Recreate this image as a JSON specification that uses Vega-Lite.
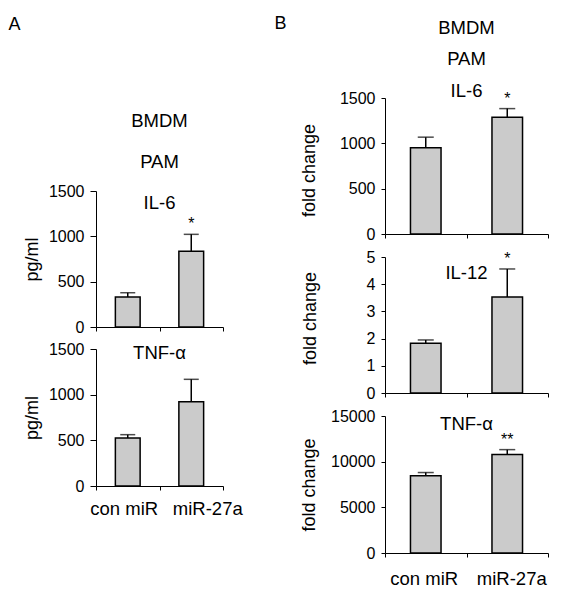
{
  "$schema": "https://vega.github.io/schema/vega-lite/v6.json",
  "padding": {"left": 8, "top": 15, "right": 5, "bottom": 5},
  "data": {"values": [
    {"panel": "A_IL6", "group": "con miR", "value": 331, "hi": 378, "sig": ""},
    {"panel": "A_IL6", "group": "miR-27a", "value": 835, "hi": 1022, "sig": "*"},
    {"panel": "A_TNF", "group": "con miR", "value": 526, "hi": 562, "sig": ""},
    {"panel": "A_TNF", "group": "miR-27a", "value": 923, "hi": 1168, "sig": ""},
    {"panel": "B_IL6", "group": "con miR", "value": 951, "hi": 1068, "sig": ""},
    {"panel": "B_IL6", "group": "miR-27a", "value": 1288, "hi": 1383, "sig": "*"},
    {"panel": "B_IL12", "group": "con miR", "value": 1.83, "hi": 1.95, "sig": ""},
    {"panel": "B_IL12", "group": "miR-27a", "value": 3.53, "hi": 4.56, "sig": "*"},
    {"panel": "B_TNF", "group": "con miR", "value": 8445, "hi": 8810, "sig": ""},
    {"panel": "B_TNF", "group": "miR-27a", "value": 10772, "hi": 11318, "sig": "**"}
  ]},
  "spacing": 31,
  "hconcat": [
    {
      "title": {"text": "A", "anchor": "start", "frame": "bounds", "offset": 64, "dx": -15, "fontSize": 18},
      "bounds": "flush",
      "spacing": 22,
      "vconcat": [
        {
          "width": 127, "height": 71,
          "data": {"values": []},
          "mark": {"type": "point", "opacity": 0}
        },
        {
          "width": 127, "height": 136,
          "title": {"text": ["BMDM", "PAM", "IL-6"], "lineHeight": 41, "offset": -29, "frame": "group", "anchor": "middle"},
          "transform": [{"filter": "datum.panel === 'A_IL6'"}],
          "encoding": {"x": {"field": "group", "type": "nominal", "sort": ["con miR", "miR-27a"], "scale": {"paddingInner": 0, "paddingOuter": 0}, "axis": {"labels": false, "title": null, "tickBand": "extent", "tickSize": 4}}},
          "layer": [
            {"mark": {"type": "bar", "width": {"band": 0.39}, "fill": "#cbcbcb", "stroke": "#000", "strokeWidth": 1.5},
             "encoding": {"y": {"field": "value", "type": "quantitative", "scale": {"domain": [0, 1500], "nice": false}, "axis": {"values": [0, 500, 1000, 1500], "format": "d", "title": "pg/ml", "tickSize": 6, "labelPadding": 6, "titlePadding": 7}}}},
            {"mark": {"type": "rule", "stroke": "#000", "strokeWidth": 1.5},
             "encoding": {"y": {"field": "value", "type": "quantitative", "scale": {"domain": [0, 1500], "nice": false}, "axis": {"values": [0, 500, 1000, 1500], "format": "d", "title": "pg/ml", "tickSize": 6, "labelPadding": 6, "titlePadding": 7}}, "y2": {"field": "hi"}}},
            {"mark": {"type": "tick", "size": 15, "thickness": 1.5, "color": "#000"},
             "encoding": {"y": {"field": "hi", "type": "quantitative", "scale": {"domain": [0, 1500], "nice": false}, "axis": {"values": [0, 500, 1000, 1500], "format": "d", "title": "pg/ml", "tickSize": 6, "labelPadding": 6, "titlePadding": 7}}}},
            {"mark": {"type": "text", "baseline": "bottom", "dy": -2, "fontSize": 16, "color": "#000"},
             "encoding": {"y": {"field": "hi", "type": "quantitative", "scale": {"domain": [0, 1500], "nice": false}, "axis": {"values": [0, 500, 1000, 1500], "format": "d", "title": "pg/ml", "tickSize": 6, "labelPadding": 6, "titlePadding": 7}}, "text": {"field": "sig", "type": "nominal"}}}
          ]
        },
        {
          "width": 127, "height": 137,
          "title": {"text": "TNF-α", "offset": -21, "frame": "group", "anchor": "middle"},
          "transform": [{"filter": "datum.panel === 'A_TNF'"}],
          "encoding": {"x": {"field": "group", "type": "nominal", "sort": ["con miR", "miR-27a"], "scale": {"paddingInner": 0, "paddingOuter": 0}, "axis": {"labels": true, "labelAngle": 0, "labelFontSize": 18.5, "labelPadding": 9, "labelOverlap": false, "labelOffset": {"condition": {"test": "datum.value === 'con miR'", "value": -4}, "value": 16}, "title": null, "tickBand": "extent", "tickSize": 4}}},
          "layer": [
            {"mark": {"type": "bar", "width": {"band": 0.39}, "fill": "#cbcbcb", "stroke": "#000", "strokeWidth": 1.5},
             "encoding": {"y": {"field": "value", "type": "quantitative", "scale": {"domain": [0, 1500], "nice": false}, "axis": {"values": [0, 500, 1000, 1500], "format": "d", "title": "pg/ml", "tickSize": 6, "labelPadding": 6, "titlePadding": 7}}}},
            {"mark": {"type": "rule", "stroke": "#000", "strokeWidth": 1.5},
             "encoding": {"y": {"field": "value", "type": "quantitative", "scale": {"domain": [0, 1500], "nice": false}, "axis": {"values": [0, 500, 1000, 1500], "format": "d", "title": "pg/ml", "tickSize": 6, "labelPadding": 6, "titlePadding": 7}}, "y2": {"field": "hi"}}},
            {"mark": {"type": "tick", "size": 15, "thickness": 1.5, "color": "#000"},
             "encoding": {"y": {"field": "hi", "type": "quantitative", "scale": {"domain": [0, 1500], "nice": false}, "axis": {"values": [0, 500, 1000, 1500], "format": "d", "title": "pg/ml", "tickSize": 6, "labelPadding": 6, "titlePadding": 7}}}},
            {"mark": {"type": "text", "baseline": "bottom", "dy": -2, "fontSize": 16, "color": "#000"},
             "encoding": {"y": {"field": "hi", "type": "quantitative", "scale": {"domain": [0, 1500], "nice": false}, "axis": {"values": [0, 500, 1000, 1500], "format": "d", "title": "pg/ml", "tickSize": 6, "labelPadding": 6, "titlePadding": 7}}, "text": {"field": "sig", "type": "nominal"}}}
          ]
        }
      ]
    },
    {
      "title": {"text": "B", "anchor": "start", "frame": "bounds", "offset": -14, "dx": -26, "fontSize": 18},
      "bounds": "flush",
      "spacing": 23,
      "vconcat": [
        {
          "width": 163, "height": 136,
          "title": {"text": ["BMDM", "PAM", "IL-6"], "lineHeight": 31.25, "offset": -10, "frame": "group", "anchor": "middle"},
          "transform": [{"filter": "datum.panel === 'B_IL6'"}],
          "encoding": {"x": {"field": "group", "type": "nominal", "sort": ["con miR", "miR-27a"], "scale": {"paddingInner": 0, "paddingOuter": 0}, "axis": {"labels": false, "title": null, "tickBand": "extent", "tickSize": 4}}},
          "layer": [
            {"mark": {"type": "bar", "width": {"band": 0.375}, "fill": "#cbcbcb", "stroke": "#000", "strokeWidth": 1.5},
             "encoding": {"y": {"field": "value", "type": "quantitative", "scale": {"domain": [0, 1500], "nice": false}, "axis": {"values": [0, 500, 1000, 1500], "format": "d", "title": "fold change", "tickSize": 4, "labelPadding": 6, "titlePadding": 21, "titleY": 72}}}},
            {"mark": {"type": "rule", "stroke": "#000", "strokeWidth": 1.5},
             "encoding": {"y": {"field": "value", "type": "quantitative", "scale": {"domain": [0, 1500], "nice": false}, "axis": {"values": [0, 500, 1000, 1500], "format": "d", "title": "fold change", "tickSize": 4, "labelPadding": 6, "titlePadding": 21, "titleY": 72}}, "y2": {"field": "hi"}}},
            {"mark": {"type": "tick", "size": 16, "thickness": 1.5, "color": "#000"},
             "encoding": {"y": {"field": "hi", "type": "quantitative", "scale": {"domain": [0, 1500], "nice": false}, "axis": {"values": [0, 500, 1000, 1500], "format": "d", "title": "fold change", "tickSize": 4, "labelPadding": 6, "titlePadding": 21, "titleY": 72}}}},
            {"mark": {"type": "text", "baseline": "bottom", "dy": -2, "fontSize": 16, "color": "#000"},
             "encoding": {"y": {"field": "hi", "type": "quantitative", "scale": {"domain": [0, 1500], "nice": false}, "axis": {"values": [0, 500, 1000, 1500], "format": "d", "title": "fold change", "tickSize": 4, "labelPadding": 6, "titlePadding": 21, "titleY": 72}}, "text": {"field": "sig", "type": "nominal"}}}
          ]
        },
        {
          "width": 163, "height": 136,
          "title": {"text": "IL-12", "offset": -33, "frame": "group", "anchor": "middle"},
          "transform": [{"filter": "datum.panel === 'B_IL12'"}],
          "encoding": {"x": {"field": "group", "type": "nominal", "sort": ["con miR", "miR-27a"], "scale": {"paddingInner": 0, "paddingOuter": 0}, "axis": {"labels": false, "title": null, "tickBand": "extent", "tickSize": 4}}},
          "layer": [
            {"mark": {"type": "bar", "width": {"band": 0.375}, "fill": "#cbcbcb", "stroke": "#000", "strokeWidth": 1.5},
             "encoding": {"y": {"field": "value", "type": "quantitative", "scale": {"domain": [0, 5], "nice": false}, "axis": {"values": [0, 1, 2, 3, 4, 5], "format": "d", "title": "fold change", "tickSize": 4, "labelPadding": 6, "titlePadding": 47, "titleY": 61}}}},
            {"mark": {"type": "rule", "stroke": "#000", "strokeWidth": 1.5},
             "encoding": {"y": {"field": "value", "type": "quantitative", "scale": {"domain": [0, 5], "nice": false}, "axis": {"values": [0, 1, 2, 3, 4, 5], "format": "d", "title": "fold change", "tickSize": 4, "labelPadding": 6, "titlePadding": 47, "titleY": 61}}, "y2": {"field": "hi"}}},
            {"mark": {"type": "tick", "size": 16, "thickness": 1.5, "color": "#000"},
             "encoding": {"y": {"field": "hi", "type": "quantitative", "scale": {"domain": [0, 5], "nice": false}, "axis": {"values": [0, 1, 2, 3, 4, 5], "format": "d", "title": "fold change", "tickSize": 4, "labelPadding": 6, "titlePadding": 47, "titleY": 61}}}},
            {"mark": {"type": "text", "baseline": "bottom", "dy": -2, "fontSize": 16, "color": "#000"},
             "encoding": {"y": {"field": "hi", "type": "quantitative", "scale": {"domain": [0, 5], "nice": false}, "axis": {"values": [0, 1, 2, 3, 4, 5], "format": "d", "title": "fold change", "tickSize": 4, "labelPadding": 6, "titlePadding": 47, "titleY": 61}}, "text": {"field": "sig", "type": "nominal"}}}
          ]
        },
        {
          "width": 163, "height": 137,
          "title": {"text": "TNF-α", "offset": -25, "frame": "group", "anchor": "middle"},
          "transform": [{"filter": "datum.panel === 'B_TNF'"}],
          "encoding": {"x": {"field": "group", "type": "nominal", "sort": ["con miR", "miR-27a"], "scale": {"paddingInner": 0, "paddingOuter": 0}, "axis": {"labels": true, "labelAngle": 0, "labelFontSize": 18.5, "labelPadding": 12, "labelOverlap": false, "labelOffset": {"condition": {"test": "datum.value === 'con miR'", "value": -2}, "value": 4}, "title": null, "tickBand": "extent", "tickSize": 4}}},
          "layer": [
            {"mark": {"type": "bar", "width": {"band": 0.375}, "fill": "#cbcbcb", "stroke": "#000", "strokeWidth": 1.5},
             "encoding": {"y": {"field": "value", "type": "quantitative", "scale": {"domain": [0, 15000], "nice": false}, "axis": {"values": [0, 5000, 10000, 15000], "format": "d", "title": "fold change", "tickSize": 4, "labelPadding": 6, "titlePadding": 12}}}},
            {"mark": {"type": "rule", "stroke": "#000", "strokeWidth": 1.5},
             "encoding": {"y": {"field": "value", "type": "quantitative", "scale": {"domain": [0, 15000], "nice": false}, "axis": {"values": [0, 5000, 10000, 15000], "format": "d", "title": "fold change", "tickSize": 4, "labelPadding": 6, "titlePadding": 12}}, "y2": {"field": "hi"}}},
            {"mark": {"type": "tick", "size": 16, "thickness": 1.5, "color": "#000"},
             "encoding": {"y": {"field": "hi", "type": "quantitative", "scale": {"domain": [0, 15000], "nice": false}, "axis": {"values": [0, 5000, 10000, 15000], "format": "d", "title": "fold change", "tickSize": 4, "labelPadding": 6, "titlePadding": 12}}}},
            {"mark": {"type": "text", "baseline": "bottom", "dy": -2, "fontSize": 16, "color": "#000"},
             "encoding": {"y": {"field": "hi", "type": "quantitative", "scale": {"domain": [0, 15000], "nice": false}, "axis": {"values": [0, 5000, 10000, 15000], "format": "d", "title": "fold change", "tickSize": 4, "labelPadding": 6, "titlePadding": 12}}, "text": {"field": "sig", "type": "nominal"}}}
          ]
        }
      ]
    }
  ],
  "config": {
    "font": "Liberation Sans",
    "view": {"stroke": null},
    "axis": {"domainColor": "#000", "tickColor": "#000", "labelColor": "#000", "titleColor": "#000", "domainWidth": 1, "tickWidth": 1, "labelFontSize": 16, "titleFontSize": 18, "titleFontWeight": "normal", "grid": false, "labelFont": "Liberation Sans", "titleFont": "Liberation Sans"},
    "title": {"font": "Liberation Sans", "fontWeight": "normal", "color": "#000", "fontSize": 18.5, "baseline": "bottom"}
  }
}
